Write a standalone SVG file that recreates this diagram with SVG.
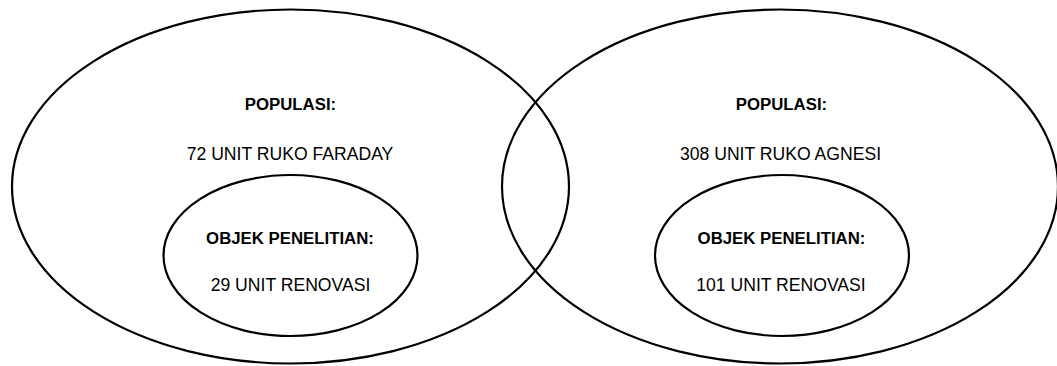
<svg xmlns="http://www.w3.org/2000/svg" width="1057" height="366" viewBox="0 0 1057 366">
<style>
.sh{fill:none;stroke:#000;stroke-width:2.2}
.t{font-family:"Liberation Sans",Arial,sans-serif;font-size:17.6px;fill:#000;text-anchor:middle}
.b{font-weight:bold;font-size:16.8px}
</style>
<rect width="1057" height="366" fill="#fff"/>
<g id="populasi-faraday">
<ellipse class="sh" cx="290.5" cy="186.5" rx="278.5" ry="177"/>
<text class="t b" x="290.5" y="110">POPULASI:</text>
<text class="t" x="290" y="160">72 UNIT RUKO FARADAY</text>
</g>
<g id="populasi-agnesi">
<ellipse class="sh" cx="780" cy="186.5" rx="278" ry="177"/>
<text class="t b" x="781.5" y="110">POPULASI:</text>
<text class="t" x="780.5" y="160">308 UNIT RUKO AGNESI</text>
</g>
<g id="objek-faraday">
<ellipse class="sh" cx="290.5" cy="255.5" rx="127" ry="80.5"/>
<text class="t b" x="290" y="244">OBJEK PENELITIAN:</text>
<text class="t" x="290.5" y="291">29 UNIT RENOVASI</text>
</g>
<g id="objek-agnesi">
<ellipse class="sh" cx="782" cy="255.5" rx="127" ry="80.5"/>
<text class="t b" x="781.5" y="244">OBJEK PENELITIAN:</text>
<text class="t" x="781" y="291">101 UNIT RENOVASI</text>
</g>
<g id="connectors"></g>
</svg>
